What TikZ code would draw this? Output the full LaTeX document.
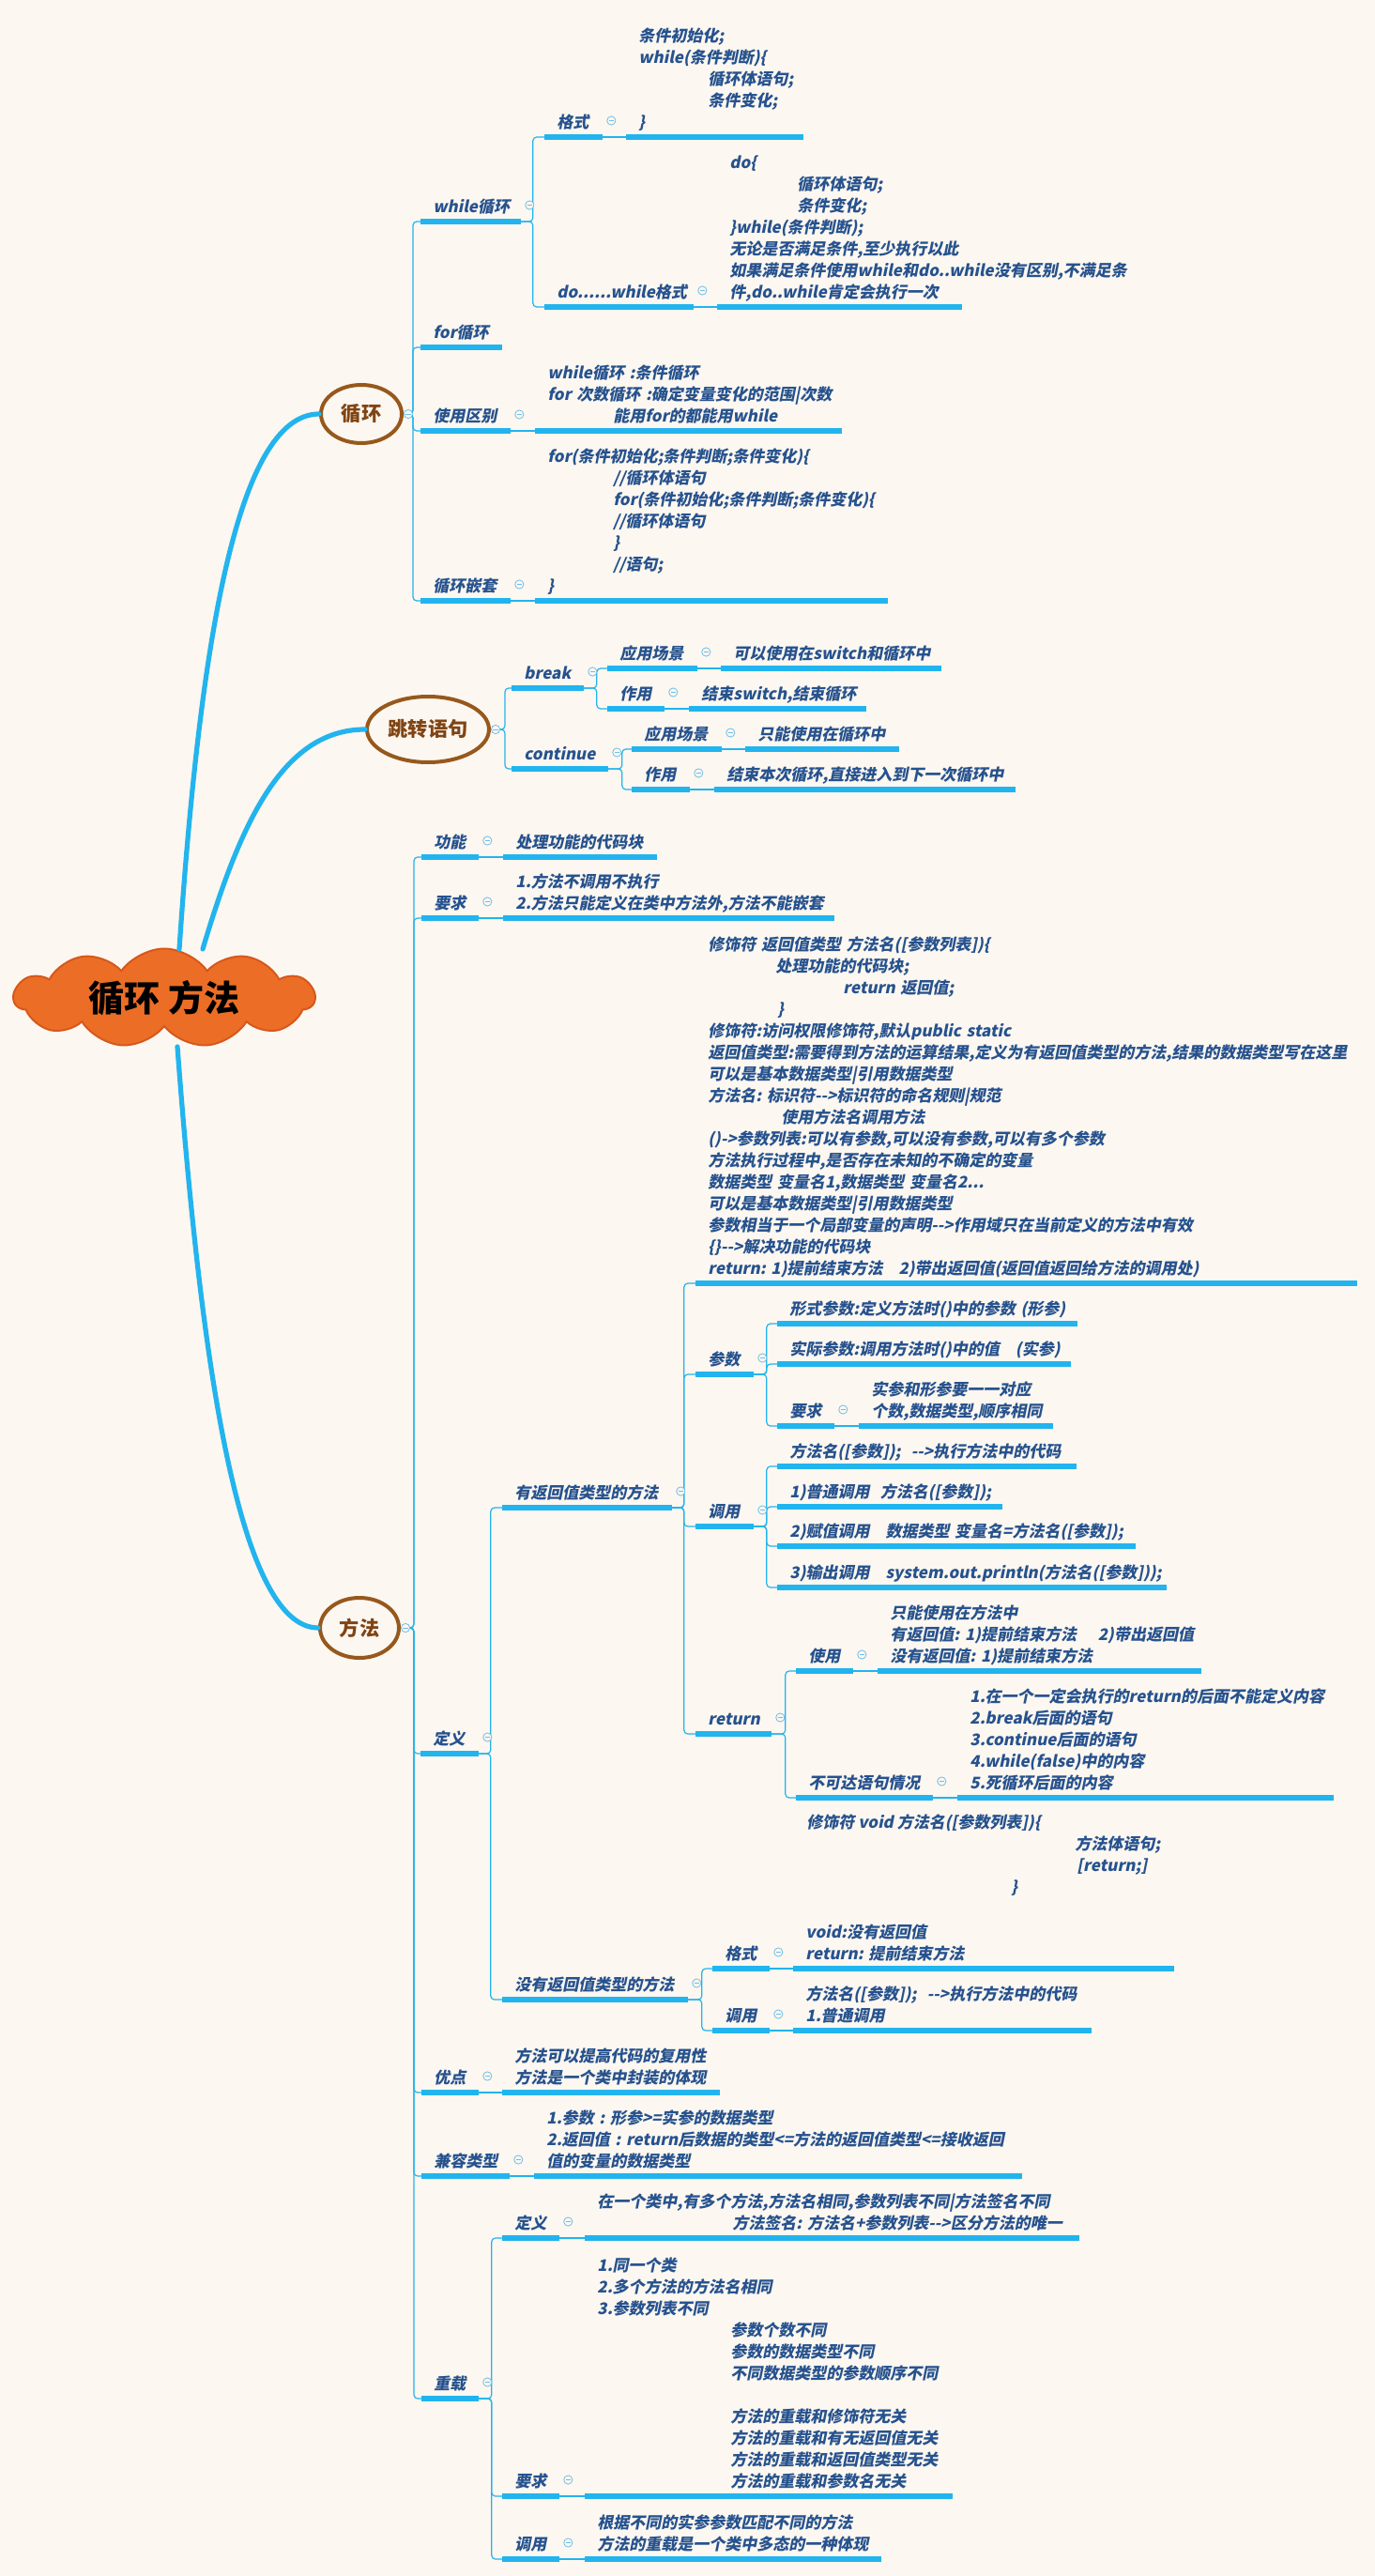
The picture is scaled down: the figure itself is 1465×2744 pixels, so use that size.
\documentclass[tikz,border=0pt]{standalone}
\usepackage{fontspec}
\usetikzlibrary{shapes.geometric,shapes.symbols,calc}
\newfontfamily\cjk[FakeSlant=0.2,Ligatures=TeXOff]{Noto Sans CJK SC}
\newfontfamily\cjkup[Ligatures=TeXOff]{Noto Sans CJK SC}
\newcommand\tf{\cjk\bfseries\fontsize{8.5}{11.5}\selectfont\hyphenpenalty=10000\exhyphenpenalty=10000}
\definecolor{bgc}{RGB}{252,247,240}
\definecolor{ulc}{RGB}{34,180,238}
\definecolor{tblue}{RGB}{38,82,142}
\definecolor{brn}{RGB}{150,88,28}
\definecolor{brntext}{RGB}{128,68,20}
\definecolor{rootfill}{RGB}{236,110,38}
\definecolor{rootline}{RGB}{214,88,28}
\definecolor{togc}{RGB}{110,190,235}
\tikzset{
  topic/.style={anchor=south west, inner xsep=6.5pt, inner ysep=1.2pt, align=left,
    font=\tf, text=tblue, execute at end node=\strut},
  w/.code={\pgfmathsetlengthmacro\tw{(#1)*0.5pt-13pt}\pgfkeysalso{/tikz/text width/.expanded=\tw}},
  free/.style={anchor=north west, inner sep=0pt, align=left, font=\tf, text=tblue},
  uline/.style={draw=ulc, line width=3pt},
  conn/.style={draw=ulc, line width=0.6pt, rounded corners=2pt},
  trunk/.style={draw=ulc, line width=2.6pt, line cap=round},
  major/.style={ellipse, draw=brn, line width=2pt, fill=bgc, text=brntext,
    font=\cjkup\bfseries\fontsize{10.6}{12}\selectfont, inner sep=0pt},
  tog/.style={circle, draw=togc, fill=bgc, line width=0.4pt, inner sep=0pt, minimum size=4.6pt,
    path picture={\draw[togc, line width=0.4pt]
      ([xshift=-1.3pt]path picture bounding box.center) -- ([xshift=1.3pt]path picture bounding box.center);}},
}
\newcommand\tg[1]{\node[tog] (#1-t) at ([shift={(9.5,-17.5)}]#1.south east) {};}
\newcommand\tgm[1]{\node[tog] (#1-t) at ([xshift=2.5pt]#1.east) {};}
\begin{document}
\begin{tikzpicture}[x=0.5pt,y=-0.5pt]
\useasboundingbox (0,0) rectangle (1465,2744);
\fill[bgc] (0,0) rectangle (1465,2744);

% root and main branches
\node[cloud, cloud puffs=11, cloud puff arc=110, cloud ignores aspect,
  minimum width=160pt, minimum height=50pt, fill=rootfill, draw=rootline, line width=1pt,
  font=\cjkup\bfseries\fontsize{19}{22}\selectfont, text=black] (root) at (175,1063) {循环~方法};
\node[major, minimum width=43pt, minimum height=31pt] (xh) at (385,441) {循环};
\node[major, minimum width=65pt, minimum height=35pt] (jz) at (456,777) {跳转语句};
\node[major, minimum width=42pt, minimum height=32pt] (ff) at (383,1734) {方法};

\draw[trunk] ([shift={(16,-52)}]root.center) .. controls (212,700) and (250,441) .. (xh.west);
\draw[trunk] ([shift={(41,-52)}]root.center) .. controls (255,880) and (300,777) .. (jz.west);
\draw[trunk] ([shift={(14,52)}]root.center) .. controls (212,1420) and (250,1734) .. (ff.west);

% loops
\node[topic,w=106] (whl) at (448,236) {while循环};
\node[topic,w=61] (fmt) at (580,146) {格式};
\node[topic,w=188] (fmtc) at (667,146) {条件初始化;\\while(条件判断)\{\\\hspace*{37pt}循环体语句;\\\hspace*{37pt}条件变化;\\\}};
\node[topic,w=158] (dow) at (580,327) {do......while格式};
\node[topic,w=260] (dowc) at (764,327) {do\{\\\hspace*{36pt}循环体语句;\\\hspace*{36pt}条件变化;\\\}while(条件判断);\\无论是否满足条件,至少执行以此\\如果满足条件使用while和do..while没有区别,不满足条\\件,do..while肯定会执行一次};
\node[topic,w=86] (forl) at (448,370) {for循环};
\node[topic,w=95] (sy) at (448,459) {使用区别};
\node[topic,w=326] (syc) at (570,459) {while循环~:条件循环\\for~次数循环~:确定变量变化的范围|次数\\\hspace*{35pt}能用for的都能用while};
\node[topic,w=95] (qt) at (448,640) {循环嵌套};
\node[topic,w=375] (qtc) at (570,640) {for(条件初始化;条件判断;条件变化)\{\\\hspace*{35pt}//循环体语句\\\hspace*{35pt}for(条件初始化;条件判断;条件变化)\{\\\hspace*{35pt}//循环体语句\\\hspace*{35pt}\}\\\hspace*{35pt}//语句;\\\}};

% jump statements
\node[topic,w=76] (brk) at (545,733) {break};
\node[topic,w=95] (brka) at (647,712) {应用场景};
\node[topic,w=234] (brkac) at (768,712) {可以使用在switch和循环中};
\node[topic,w=60] (brkb) at (647,755) {作用};
\node[topic,w=188] (brkbc) at (734,755) {结束switch,结束循环};
\node[topic,w=102] (cnt) at (545,819) {continue};
\node[topic,w=95] (cnta) at (673,798) {应用场景};
\node[topic,w=163] (cntac) at (794,798) {只能使用在循环中};
\node[topic,w=61] (cntb) at (673,841) {作用};
\node[topic,w=320] (cntbc) at (761,841) {结束本次循环,直接进入到下一次循环中};

% methods
\node[topic,w=60] (gn) at (449,913) {功能};
\node[topic,w=163] (gnc) at (536,913) {处理功能的代码块};
\node[topic,w=60] (yq) at (449,978) {要求};
\node[topic,w=352] (yqc) at (536,978) {1.方法不调用不执行\\2.方法只能定义在类中方法外,方法不能嵌套};
\node[topic,w=61] (dy) at (448,1868) {定义};
\node[topic,w=180] (yf) at (535,1606) {有返回值类型的方法};
\node[topic,w=704] (yfc) at (741,1367) {修饰符~返回值类型~方法名([参数列表])\{\\
\hspace*{36pt}处理功能的代码块;\\
\hspace*{72pt}return~返回值;\\
\hspace*{37pt}\}\\
修饰符:访问权限修饰符,默认public~static\\
返回值类型:需要得到方法的运算结果,定义为有返回值类型的方法,结果的数据类型写在这里\\
可以是基本数据类型|引用数据类型\\
方法名:~标识符-->标识符的命名规则|规范\\
\hspace*{39pt}使用方法名调用方法\\
()->参数列表:可以有参数,可以没有参数,可以有多个参数\\
方法执行过程中,是否存在未知的不确定的变量\\
数据类型~变量名1,数据类型~变量名2...\\
可以是基本数据类型|引用数据类型\\
参数相当于一个局部变量的声明-->作用域只在当前定义的方法中有效\\
\{\}-->解决功能的代码块\\
return:~1)提前结束方法~~~2)带出返回值(返回值返回给方法的调用处)};
\node[topic,w=61] (cs) at (741,1464) {参数};
\node[topic,w=319] (csa) at (828,1410) {形式参数:定义方法时()中的参数~(形参)};
\node[topic,w=312] (csb) at (828,1453) {实际参数:调用方法时()中的值~~~(实参)};
\node[topic,w=60] (csc) at (828,1519) {要求};
\node[topic,w=206] (cscc) at (915,1519) {实参和形参要一一对应\\个数,数据类型,顺序相同};
\node[topic,w=61] (dyy) at (741,1626) {调用};
\node[topic,w=318] (dyya) at (828,1562) {方法名([参数]);~~-->执行方法中的代码};
\node[topic,w=239] (dyyb) at (828,1605) {1)普通调用~~方法名([参数]);};
\node[topic,w=381] (dyyc) at (828,1647) {2)赋值调用~~~数据类型~变量名=方法名([参数]);};
\node[topic,w=414] (dyyd) at (828,1691) {3)输出调用~~~system.out.println(方法名([参数]));};
\node[topic,w=80] (ret) at (741,1847) {return};
\node[topic,w=60] (reta) at (848,1780) {使用};
\node[topic,w=344] (retac) at (935,1780) {只能使用在方法中\\有返回值:~1)提前结束方法~~~~2)带出返回值\\没有返回值:~1)提前结束方法};
\node[topic,w=145] (retb) at (848,1915) {不可达语句情况};
\node[topic,w=400] (retbc) at (1020,1915) {1.在一个一定会执行的return的后面不能定义内容\\2.break后面的语句\\3.continue后面的语句\\4.while(false)中的内容\\5.死循环后面的内容};
\node[free] (voidc) at (859,1931) {\strut 修饰符~void~方法名([参数列表])\{\\\hspace*{143pt}方法体语句;\\\hspace*{144pt}{[return;]}\\\hspace*{109pt}\}};
\node[topic,w=197] (wf) at (535,2130) {没有返回值类型的方法};
\node[topic,w=60] (wfa) at (759,2097) {格式};
\node[topic,w=405] (wfac) at (845,2097) {void:没有返回值\\return:~提前结束方法};
\node[topic,w=60] (wfb) at (759,2163) {调用};
\node[topic,w=317] (wfbc) at (845,2163) {方法名([参数]);~~-->执行方法中的代码\\1.普通调用};
\node[topic,w=60] (yd) at (449,2229) {优点};
\node[topic,w=231] (ydc) at (535,2229) {方法可以提高代码的复用性\\方法是一个类中封装的体现};
\node[topic,w=93] (jr) at (449,2318) {兼容类型};
\node[topic,w=519] (jrc) at (569,2318) {1.参数~:~形参>=实参的数据类型\\2.返回值~:~return后数据的类型<=方法的返回值类型<=接收返回\\值的变量的数据类型};
\node[topic,w=60] (cz) at (449,2555) {重载};
\node[topic,w=60] (cza) at (535,2384) {定义};
\node[topic,w=526] (czac) at (623,2384) {在一个类中,有多个方法,方法名相同,参数列表不同|方法签名不同\\\hspace*{72pt}方法签名:~方法名+参数列表-->区分方法的唯一};
\node[topic,w=60] (czb) at (535,2659) {要求};
\node[topic,w=391] (czbc) at (623,2659) {1.同一个类\\2.多个方法的方法名相同\\3.参数列表不同\\
\hspace*{71pt}参数个数不同\\\hspace*{71pt}参数的数据类型不同\\\hspace*{71pt}不同数据类型的参数顺序不同\\\mbox{}\\
\hspace*{71pt}方法的重载和修饰符无关\\\hspace*{71pt}方法的重载和有无返回值无关\\\hspace*{71pt}方法的重载和返回值类型无关\\\hspace*{71pt}方法的重载和参数名无关};
\node[topic,w=60] (czc) at (535,2726) {调用};
\node[topic,w=315] (czcc) at (623,2726) {根据不同的实参参数匹配不同的方法\\方法的重载是一个类中多态的一种体现};

% underlines
\foreach \n in {whl,fmt,fmtc,dow,dowc,forl,sy,syc,qt,qtc,
  brk,brka,brkac,brkb,brkbc,cnt,cnta,cntac,cntb,cntbc,
  gn,gnc,yq,yqc,dy,yf,yfc,cs,csa,csb,csc,cscc,dyy,dyya,dyyb,dyyc,dyyd,
  ret,reta,retac,retb,retbc,wf,wfa,wfac,wfb,wfbc,yd,ydc,jr,jrc,
  cz,cza,czac,czb,czbc,czc,czcc}
  \draw[uline] (\n.south west) -- (\n.south east);

% branch connectors
\foreach \c in {whl,forl,sy,qt} \draw[conn] (xh.east) -- ++(10,0) |- (\c.south west);
\foreach \c in {fmt,dow} \draw[conn] (whl.south east) -- ++(13,0) |- (\c.south west);
\foreach \c in {brk,cnt} \draw[conn] (jz.east) -- ++(15,0) |- (\c.south west);
\foreach \c in {brka,brkb} \draw[conn] (brk.south east) -- ++(14,0) |- (\c.south west);
\foreach \c in {cnta,cntb} \draw[conn] (cnt.south east) -- ++(15,0) |- (\c.south west);
\foreach \c in {gn,yq,dy,yd,jr,cz} \draw[conn] (ff.east) -- ++(14,0) |- (\c.south west);
\foreach \c in {yf,wf} \draw[conn] (dy.south east) -- ++(13,0) |- (\c.south west);
\foreach \c in {yfc,cs,dyy,ret} \draw[conn] (yf.south east) -- ++(13,0) |- (\c.south west);
\foreach \c in {csa,csb,csc} \draw[conn] (cs.south east) -- ++(14,0) |- (\c.south west);
\foreach \c in {dyya,dyyb,dyyc,dyyd} \draw[conn] (dyy.south east) -- ++(14,0) |- (\c.south west);
\foreach \c in {reta,retb} \draw[conn] (ret.south east) -- ++(15,0) |- (\c.south west);
\foreach \c in {wfa,wfb} \draw[conn] (wf.south east) -- ++(15,0) |- (\c.south west);
\foreach \c in {cza,czb,czc} \draw[conn] (cz.south east) -- ++(14,0) |- (\c.south west);
\foreach \p/\c in {fmt/fmtc,dow/dowc,sy/syc,qt/qtc,brka/brkac,brkb/brkbc,cnta/cntac,cntb/cntbc,
  gn/gnc,yq/yqc,csc/cscc,reta/retac,retb/retbc,wfa/wfac,wfb/wfbc,yd/ydc,jr/jrc,
  cza/czac,czb/czbc,czc/czcc}
  \draw[conn] (\p.south east) -- (\c.south west);

% collapse markers
\tgm{xh}\tgm{jz}\tgm{ff}
\foreach \n in {whl,fmt,dow,sy,qt,brk,brka,brkb,cnt,cnta,cntb,gn,yq,dy,yf,cs,csc,dyy,
  ret,reta,retb,wf,wfa,wfb,yd,jr,cz,cza,czb,czc} {\tg{\n}}
\end{tikzpicture}
\end{document}
